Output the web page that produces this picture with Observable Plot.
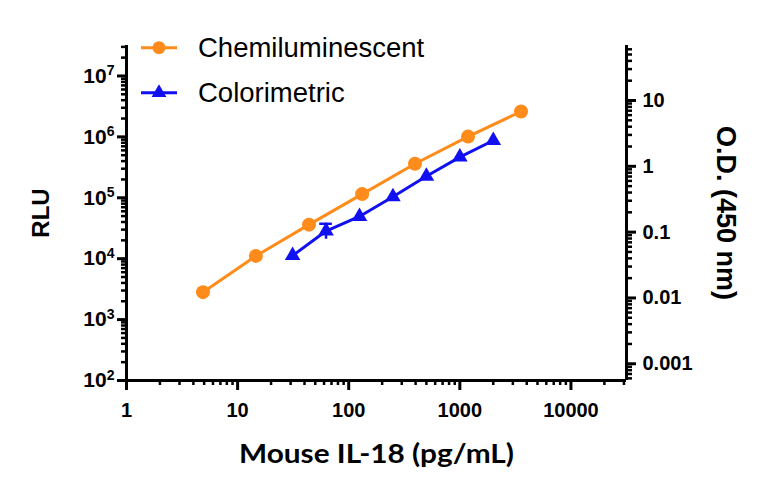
<!DOCTYPE html>
<html><head><meta charset="utf-8">
<script src="https://cdn.jsdelivr.net/npm/d3@7"></script>
<script src="https://cdn.jsdelivr.net/npm/@observablehq/plot@0.6"></script>
<style>
html,body{margin:0;padding:0;background:#fff;}
#chart{position:relative;width:768px;height:494px;font-family:"Liberation Sans",Arial,sans-serif;}
#chart > svg{position:absolute;left:0;top:0;}
</style></head><body><div id="chart"></div>
<script>
const seriesNames = ["Chemiluminescent", "Colorimetric"];
const seriesColors = ["#ff8c1a", "#1010f0"];
const chemiConc = [4.88, 14.6, 43.9, 132, 395, 1185, 3556];
const chemiRLU = [2820, 11100, 36200, 115000, 362000, 1010000, 2610000];
const coloConc = [31.25, 62.5, 125, 250, 500, 1000, 2000];
const coloOD = [0.044, 0.104, 0.173, 0.344, 0.708, 1.38, 2.47];
const coloErrConc = [62.5];
const coloErrLow = [0.078];
const coloErrHigh = [0.134];
const xTicks = [1, 10, 100, 1000, 10000];
const rluTicks = [1e2, 1e3, 1e4, 1e5, 1e6, 1e7];
const odTicks = [0.001, 0.01, 0.1, 1, 10];
const xDomain = [1, 31623];
const rluDomain = [100, 31623000];
const odDomain = [0.000557, 68.5];
const xTitle = "Mouse IL-18 (pg/mL)";
const rluTitle = "RLU";
const odTitle = "O.D. (450 nm)";

const chemi = chemiConc.map((c, i) => ({conc: c, v: chemiRLU[i]}));
const colo = coloConc.map((c, i) => ({conc: c, v: coloOD[i]}));
const coloErr = coloErrConc.map((c, i) => ({conc: c, lo: coloErrLow[i], hi: coloErrHigh[i]}));

const isMajor = t => Math.abs(Math.log10(t) - Math.round(Math.log10(t))) < 1e-6;
const minors = dom => d3.scaleLog().domain(dom).ticks().filter(t => !isMajor(t) && t >= dom[0] && t <= dom[1]);

const frame = {width: 768, height: 494, marginLeft: 126, marginRight: 142, marginTop: 45, marginBottom: 114};
const font = "Liberation Sans, Arial, sans-serif";

const svg1 = Plot.plot({
  ...frame,
  style: {fontFamily: font, color: "black", background: "transparent", overflow: "visible"},
  x: {type: "log", domain: xDomain},
  y: {type: "log", domain: rluDomain},
  marks: [
    Plot.axisX({ticks: minors(xDomain), tickSize: 5, strokeWidth: 2.5, tickFormat: () => "", label: null}),
    Plot.axisX({ticks: xTicks, tickSize: 10, tickPadding: 12, strokeWidth: 3, tickFormat: d => String(d), fontSize: 20, fontWeight: "bold", label: null}),
    Plot.axisY({ticks: minors(rluDomain), tickSize: 5, strokeWidth: 2.5, tickFormat: () => "", label: null}),
    Plot.axisY({ticks: rluTicks, tickSize: 9, tickPadding: 3, strokeWidth: 3, tickFormat: d => String(Math.round(Math.log10(d))), fontSize: 21, fontWeight: "bold", label: null}),
    Plot.ruleX([xDomain[0]], {strokeWidth: 3}),
    Plot.ruleY([rluDomain[0]], {strokeWidth: 3}),
    Plot.text([rluTitle], {frameAnchor: "left", text: d => d, rotate: -90, dx: -85, textAnchor: "middle", fontSize: 24, fontWeight: "bold"}),
    Plot.text([xTitle], {frameAnchor: "bottom", text: d => d, dy: 82, textAnchor: "middle", fontSize: 26, fontWeight: "bold", fontFamily: "Lato, sans-serif"}),
    Plot.line(chemi, {x: "conc", y: "v", stroke: seriesColors[0], strokeWidth: 3}),
    Plot.dot(chemi, {x: "conc", y: "v", r: 7, fill: seriesColors[0]})
  ]
});

d3.select(svg1).selectAll('g[aria-label="y-axis tick label"] text').each(function() {
  const t = this.textContent;
  if (!t) return;
  const s = d3.select(this);
  s.text("10");
  s.append("tspan").attr("dy", "-0.55em").attr("font-size", "14px").text(t);
});
d3.select(svg1).selectAll('g[aria-label="text"] text').filter(function() { return this.textContent === xTitle; })
  .attr("textLength", 275).attr("lengthAdjust", "spacingAndGlyphs");

const svg2 = Plot.plot({
  ...frame,
  style: {fontFamily: font, color: "black", background: "transparent", overflow: "visible"},
  x: {type: "log", domain: xDomain, axis: null},
  y: {type: "log", domain: odDomain},
  marks: [
    Plot.axisY({anchor: "right", ticks: minors(odDomain), tickSize: 5, strokeWidth: 2.5, tickFormat: () => "", label: null}),
    Plot.axisY({anchor: "right", ticks: odTicks, tickSize: 9, tickPadding: 7, strokeWidth: 3, tickFormat: d => String(d), fontSize: 20, fontWeight: "bold", label: null}),
    Plot.ruleX([xDomain[1]], {strokeWidth: 3}),
    Plot.text([odTitle], {frameAnchor: "right", text: d => d, rotate: 90, dx: 99, textAnchor: "middle", fontSize: 27, fontWeight: "bold"}),
    Plot.ruleX(coloErr, {x: "conc", y1: "lo", y2: "hi", stroke: seriesColors[1], strokeWidth: 2.5}),
    Plot.ruleY(coloErr, {y: "hi", x1: d => d.conc / 1.14, x2: d => d.conc * 1.14, stroke: seriesColors[1], strokeWidth: 2.5}),
    Plot.line(colo, {x: "conc", y: "v", stroke: seriesColors[1], strokeWidth: 3}),
    Plot.dot(colo, {x: "conc", y: "v", r: 5.8, symbol: "triangle", fill: seriesColors[1]})
  ]
});

const chart = document.getElementById("chart");
chart.append(svg1, svg2);

// legend
const leg = d3.select(chart).append("svg").attr("width", 768).attr("height", 120)
  .style("position", "absolute").style("left", "0px").style("top", "0px");
const legY = [47.7, 92.7];
seriesNames.forEach((name, i) => {
  const g = leg.append("g").attr("transform", `translate(0,${legY[i]})`);
  g.append("line").attr("x1", 141).attr("x2", 177).attr("y1", 0).attr("y2", 0)
    .attr("stroke", seriesColors[i]).attr("stroke-width", 3);
  if (i === 0) g.append("circle").attr("cx", 159).attr("cy", 0).attr("r", 6.5).attr("fill", seriesColors[i]);
  else g.append("path").attr("transform", "translate(159,0)").attr("d", d3.symbol(d3.symbolTriangle, Math.PI * 30)()).attr("fill", seriesColors[i]);
  g.append("text").attr("x", 198).attr("y", 0).attr("dy", "0.35em")
    .attr("font-family", font).attr("font-size", 27.5).attr("fill", "black").text(name);
});
</script></body></html>
